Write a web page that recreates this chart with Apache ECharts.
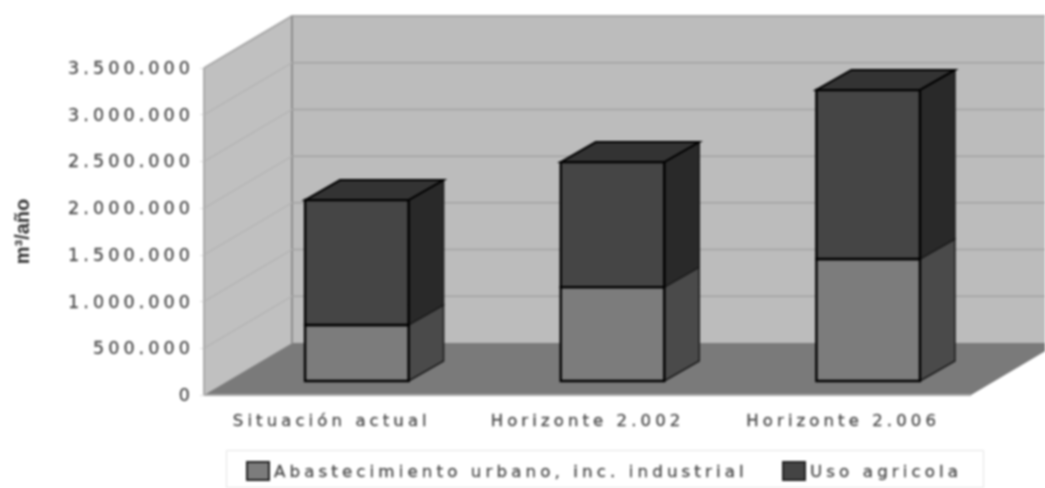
<!DOCTYPE html>
<html><head><meta charset="utf-8">
<style>
html,body{margin:0;padding:0;background:#fff}
#c{width:1045px;height:488px;overflow:hidden;filter:blur(0.8px)}
#c text{letter-spacing:4.1px;stroke:#555;stroke-width:.35px}
#c text[style*="bold"]{letter-spacing:0;stroke:none}
</style>
<script src="https://cdn.jsdelivr.net/npm/echarts@6/dist/echarts.min.js"></script>
</head><body><div id="c"></div>
<script>
var categories = ['Situación actual', 'Horizonte 2.002', 'Horizonte 2.006'];
var abastecimiento = [600000, 1005000, 1306000];
var usoAgricola = [1337000, 1338000, 1809000];
var yTicks = [0, 500000, 1000000, 1500000, 2000000, 2500000, 3000000, 3500000];
var seriesNames = ['Abastecimiento urbano, inc. industrial', 'Uso agricola'];

var DX = 88, DY = -52;          // wall depth
var BX = 25, BY = -14;          // bar plane offset
var CX = 35, CY = -20;          // bar depth

function poly(pts, fill, stroke, lw) {
  return {type: 'polygon', shape: {points: pts},
    style: {fill: fill, stroke: stroke || 'none', lineWidth: lw || 0}};
}
function line(pts, color, lw) {
  return {type: 'polyline', shape: {points: pts},
    style: {fill: 'none', stroke: color, lineWidth: lw}};
}
function wallsItem(params, api) {
  var r = params.coordSys, l = r.x, rt = r.x + r.width, t = r.y, b = r.y + r.height;
  return {type: 'group', children: [
    poly([[l + DX, t + DY], [rt + DX, t + DY], [rt + DX, b + DY], [l + DX, b + DY]], '#bcbcbc'),
    poly([[l, t], [l + DX, t + DY], [l + DX, b + DY], [l, b]], '#c0c0c0'),
    poly([[l, b], [l + DX, b + DY], [rt + DX, b + DY], [rt, b]], '#7a7a7a'),
    line([[l, t], [l + DX, t + DY], [rt + DX, t + DY]], '#a8a8a8', 2),
    line([[l + DX, t + DY], [l + DX, b + DY]], '#8e8e8e', 2),
    line([[l, t], [l, b]], '#9a9a9a', 1.5),
    line([[l, b], [rt, b]], '#a8a8a8', 2)
  ]};
}
function gridItem(params, api) {
  var r = params.coordSys, v = api.value(0);
  if (v === 0 || v === yTicks[yTicks.length - 1]) return null;
  var y = api.coord([0, v])[1], l = r.x, rt = r.x + r.width;
  return {type: 'group', children: [
    line([[l, y], [l + DX, y + DY]], '#b2b2b2', 1.2),
    line([[l + DX, y + DY], [rt + DX, y + DY]], '#a2a2a2', 1.5)
  ]};
}
function barItem(front, side, topFill) {
  return function (params, api) {
    var cat = api.value(0), low = api.coord([cat, api.value(1)]), high = api.coord([cat, api.value(2)]);
    var w = api.size([1, 0])[0] * 0.405;
    var x0 = low[0] + BX - w / 2, x1 = x0 + w, yb = low[1] + BY, yt = high[1] + BY;
    var edge = '#000';
    var kids = [
      poly([[x1, yb], [x1 + CX, yb + CY], [x1 + CX, yt + CY], [x1, yt]], side, '#1c1c1c', 1.5),
      poly([[x0, yb], [x1, yb], [x1, yt], [x0, yt]], front, edge, 2.4)
    ];
    if (topFill) kids.push(poly([[x0, yt], [x0 + CX, yt + CY], [x1 + CX, yt + CY], [x1, yt]], topFill, edge, 2));
    return {type: 'group', children: kids};
  };
}
var abRows = categories.map(function (c, i) { return [i, 0, abastecimiento[i]]; });
var usoRows = categories.map(function (c, i) { return [i, abastecimiento[i], abastecimiento[i] + usoAgricola[i]]; });

var legendBase = {
  top: 461, padding: 0, icon: 'rect', itemWidth: 22, itemHeight: 18, selectedMode: false,
  textStyle: {fontFamily: 'DejaVu Sans', fontSize: 16.7, color: '#4a4a4a'}
};
var chart = echarts.init(document.getElementById('c'), null, {renderer: 'svg'});
chart.setOption({
  animation: false,
  backgroundColor: '#fff',
  grid: {left: 204, top: 68, width: 767, height: 327},
  graphic: [{type: 'rect', left: 226, top: 450, shape: {width: 757, height: 37},
    style: {fill: '#fff', stroke: '#e4e4e4', lineWidth: 1}, z: 0}],
  legend: [
    Object.assign({}, legendBase, {left: 246, data: [seriesNames[0]]}),
    Object.assign({}, legendBase, {left: 782, data: [seriesNames[1]]})
  ],
  xAxis: {
    type: 'category', data: categories,
    axisTick: {show: false}, axisLine: {show: false},
    axisLabel: {margin: 17, fontFamily: 'DejaVu Sans', fontSize: 16.5, color: '#4a4a4a'}
  },
  yAxis: {
    type: 'value', min: 0, max: 3500000, interval: 500000,
    name: 'm³/año', nameLocation: 'middle', nameGap: 172, nameRotate: 90,
    nameTextStyle: {fontFamily: 'Liberation Sans', fontWeight: 'bold', fontSize: 20, color: '#333'},
    splitLine: {show: false},
    axisLine: {show: false},
    axisTick: {show: true, length: 4, lineStyle: {color: '#ddd'}},
    axisLabel: {
      margin: 10, fontFamily: 'DejaVu Sans', fontSize: 17.5, color: '#4a4a4a',
      formatter: function (v) { return String(v).replace(/\B(?=(\d{3})+$)/g, '.'); }
    }
  },
  series: [
    {type: 'custom', name: 'paredes', data: [[0, 0]], renderItem: wallsItem, silent: true, z: 1},
    {type: 'custom', name: 'rejilla', data: yTicks.map(function (v) { return [v]; }), encode: {y: 0}, renderItem: gridItem, silent: true, z: 2},
    {type: 'custom', name: seriesNames[0], data: abRows, encode: {x: 0, y: 2},
      itemStyle: {color: '#7c7c7c', borderColor: '#222', borderWidth: 1},
      renderItem: barItem('#7c7c7c', '#4a4a4a', null), z: 3},
    {type: 'custom', name: seriesNames[1], data: usoRows, encode: {x: 0, y: 2},
      itemStyle: {color: '#444444', borderColor: '#222', borderWidth: 1},
      renderItem: barItem('#454545', '#292929', '#333333'), z: 4}
  ]
});
</script></body></html>
